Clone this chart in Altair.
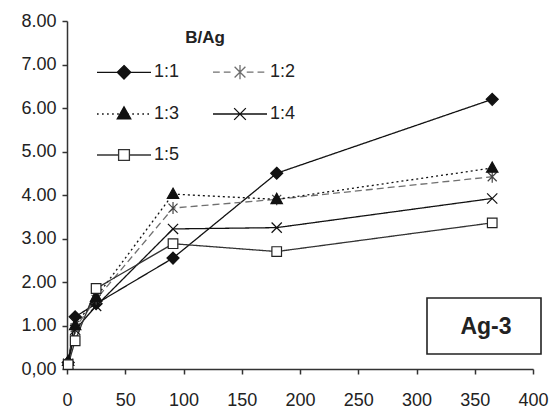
import altair as alt
import pandas as pd

days = [1, 7, 25, 91, 180, 365]
series_names = ["1:1", "1:2", "1:3", "1:4", "1:5"]
v11 = [0.15, 1.20, 1.50, 2.55, 4.50, 6.20]
v12 = [0.12, 0.95, 1.60, 3.70, 3.90, 4.42]
v13 = [0.18, 1.00, 1.65, 4.02, 3.90, 4.62]
v14 = [0.12, 0.90, 1.45, 3.22, 3.25, 3.92]
v15 = [0.10, 0.65, 1.85, 2.88, 2.70, 3.36]
x_ticks = [0, 50, 100, 150, 200, 250, 300, 350, 400]
y_ticks = [0, 1, 2, 3, 4, 5, 6, 7, 8]
panel_label = "Ag-3"
legend_title = "B/Ag"

rows = []
for name, vals in zip(series_names, [v11, v12, v13, v14, v15]):
    for d, v in zip(days, vals):
        rows.append({"day": d, "value": v, "series": name})
df = pd.DataFrame(rows)


def segs(a, b, dash, gap):
    out = ""
    p = a
    while p < b:
        e = min(p + dash, b)
        out += f"M{p:.2f},0H{e:.2f}"
        p = e + gap
    return out


# legend symbol paths (line + marker), unit = sqrt(size)/2
L_solid = "M-3,0H3"
leg_paths = [
    L_solid + "M0,-0.75L0.75,0L0,0.75L-0.75,0Z",
    segs(-3, -0.75, 0.75, 0.45) + segs(0.75, 3, 0.75, 0.45)
    + "M-0.6,-0.6L0.6,0.6M-0.6,0.6L0.6,-0.6M0,-0.8V0.8",
    segs(-3, 3, 0.18, 0.38) + "M0,-0.8L0.75,0.55L-0.75,0.55Z",
    L_solid + "M-0.65,-0.65L0.65,0.65M-0.65,0.65L0.65,-0.65",
    "M-3,0H-0.6M0.6,0H3M-0.6,-0.6H0.6V0.6H-0.6Z",
]
pt_paths = [
    "M0,-1L1,0L0,1L-1,0Z",
    "M-0.75,-0.75L0.75,0.75M-0.75,0.75L0.75,-0.75M0,-1V1",
    "M0,-1L0.95,0.7L-0.95,0.7Z",
    "M-0.85,-0.85L0.85,0.85M-0.85,0.85L0.85,-0.85",
    "M-0.8,-0.8H0.8V0.8H-0.8Z",
]
stroke_cols = ["#111111", "#707070", "#111111", "#111111", "#333333"]
pt_stroke = ["#111111", "#444444", "#111111", "#111111", "#222222"]
fill_cols = ["#111111", "#444444", "#111111", "#111111", "#ffffff"]
dashes = [[1, 0], [7, 4], [2, 3], [1, 0], [1, 0]]

x_enc = alt.X("day:Q", scale=alt.Scale(domain=[0, 400], nice=False),
              axis=alt.Axis(values=x_ticks, title=None, grid=False,
                            tickSize=5, labelPadding=17, labelFontSize=18,
                            labelFont="Liberation Sans", labelColor="#222",
                            domainColor="#333", tickColor="#333",
                            domainWidth=1.5, tickWidth=1.5, labelFlush=False))
y_enc = alt.Y("value:Q", scale=alt.Scale(domain=[0, 8], nice=False),
              axis=alt.Axis(values=y_ticks, title=None, grid=False,
                            tickSize=5, labelPadding=6, labelFontSize=18,
                            labelFont="Liberation Sans", labelColor="#222",
                            domainColor="#333", tickColor="#333",
                            domainWidth=1.5, tickWidth=1.5,
                            labelExpr="datum.value == 0 ? '0,00' : format(datum.value, '.2f')"))

base = alt.Chart(df)

lines = base.mark_line(strokeWidth=1.3).encode(
    x=x_enc, y=y_enc,
    stroke=alt.Stroke("series:N", scale=alt.Scale(domain=series_names, range=stroke_cols), legend=None),
    strokeDash=alt.StrokeDash("series:N", scale=alt.Scale(domain=series_names, range=dashes), legend=None),
)

points = base.mark_point(size=144, strokeWidth=1.2, opacity=1).encode(
    x="day:Q", y="value:Q",
    shape=alt.Shape("series:N", scale=alt.Scale(domain=series_names, range=pt_paths), legend=None),
    fill=alt.Fill("series:N", scale=alt.Scale(domain=series_names, range=fill_cols), legend=None),
    stroke=alt.Stroke("series:N", scale=alt.Scale(domain=series_names, range=pt_stroke), legend=None),
)

leg = alt.Legend(
    title=legend_title, orient="none", legendX=47, legendY=9, columns=2,
    direction="horizontal",
    titleFontSize=17, titleFont="Liberation Sans", titleFontWeight="bold",
    titleColor="#222", titleAnchor="middle", titlePadding=15,
    labelFontSize=18, labelFont="Liberation Sans", labelColor="#222",
    symbolSize=324, symbolStrokeWidth=1.3, symbolOpacity=1,
    labelOffset=20, columnPadding=30, rowPadding=22, padding=0,
)

legend_layer = base.mark_point(opacity=0).encode(
    x="day:Q", y="value:Q",
    shape=alt.Shape("series:N", scale=alt.Scale(domain=series_names, range=leg_paths), legend=leg),
    fill=alt.Fill("series:N", scale=alt.Scale(domain=series_names, range=fill_cols), legend=leg),
    stroke=alt.Stroke("series:N", scale=alt.Scale(domain=series_names, range=stroke_cols), legend=leg),
)

box_df = pd.DataFrame({"label": [panel_label]})
box = alt.Chart(box_df).mark_rect(fill="white", stroke="#222", strokeWidth=1.6).encode(
    x=alt.value(360), x2=alt.value(474), y=alt.value(277), y2=alt.value(333))
box_text = alt.Chart(box_df).mark_text(
    fontSize=23, fontWeight="bold", font="Liberation Sans", color="#222",
    align="center", baseline="middle").encode(
    x=alt.value(419), y=alt.value(306), text="label:N")

chart = alt.layer(lines, points, legend_layer, box, box_text).resolve_scale(
    shape="independent", fill="independent", stroke="independent", strokeDash="independent"
).resolve_legend(shape="independent", fill="independent", stroke="independent").properties(
    width=466, height=348,
    autosize=alt.AutoSizeParams(type="none"),
    padding={"left": 59, "top": 13, "right": 17, "bottom": 43},
).configure_view(stroke=None)

chart.save("out.html", embed_options={"renderer": "svg", "actions": False})
